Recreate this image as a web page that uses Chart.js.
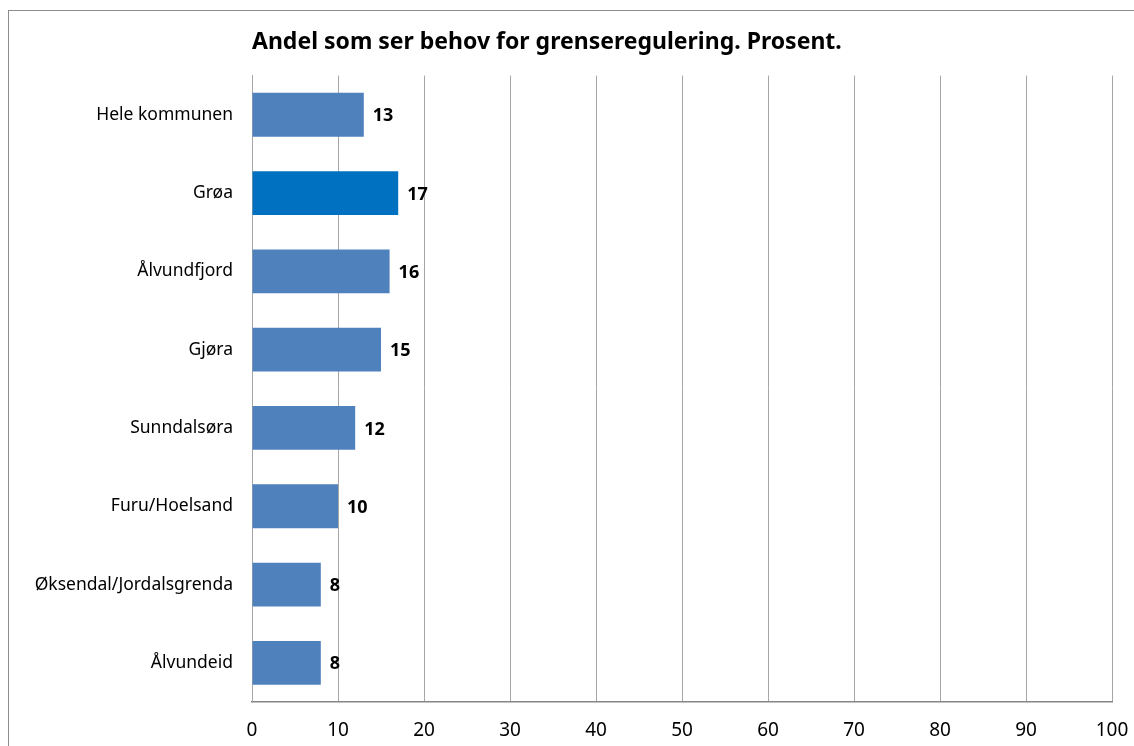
<!DOCTYPE html>
<html>
<head>
<meta charset="utf-8">
<script src="https://cdn.jsdelivr.net/npm/chart.js@4"></script>
<style>
  html, body { margin: 0; padding: 0; background: #fff; overflow: hidden; }
  #wrap { position: relative; width: 1134px; height: 746px; }
  #frame { position: absolute; left: 8px; top: 10px; width: 1140px; height: 760px;
           border: 1.5px solid #8c8c8c; box-sizing: border-box; pointer-events: none; }
  canvas { position: absolute; left: 0; top: 0; }
</style>
</head>
<body>
<div id="wrap">
  <div id="frame"></div>
  <canvas id="chart" width="1134" height="746"></canvas>
</div>
<script>
  const titleText = 'Andel som ser behov for grenseregulering. Prosent.';
  const areas = ['Hele kommunen', 'Grøa', 'Ålvundfjord', 'Gjøra', 'Sunndalsøra',
                 'Furu/Hoelsand', 'Øksendal/Jordalsgrenda', 'Ålvundeid'];
  const shares = [13, 17, 16, 15, 12, 10, 8, 8];
  const highlighted = 'Grøa';

  const baseColor = '#4f81bd';
  const highlightColor = '#0070c0';
  const fontFamily = '"Noto Sans", "Open Sans", sans-serif';

  // value labels to the right of each bar
  const valueLabels = {
    id: 'valueLabels',
    afterDatasetsDraw(chart) {
      const ctx = chart.ctx;
      const meta = chart.getDatasetMeta(0);
      ctx.save();
      ctx.font = 'bold 18px ' + fontFamily;
      ctx.fillStyle = '#000';
      ctx.textBaseline = 'middle';
      ctx.textAlign = 'left';
      meta.data.forEach((bar, i) => {
        ctx.fillText(String(shares[i]), bar.x + 9, bar.y + 1.5);
      });
      ctx.restore();
    }
  };

  new Chart(document.getElementById('chart'), {
    type: 'bar',
    data: {
      labels: areas,
      datasets: [{
        data: shares,
        backgroundColor: areas.map(a => a === highlighted ? highlightColor : baseColor),
        borderWidth: 0,
        categoryPercentage: 1,
        barPercentage: 0.56
      }]
    },
    options: {
      indexAxis: 'y',
      responsive: false,
      animation: false,
      devicePixelRatio: 1,
      layout: { padding: { left: 0, right: 22, top: 0, bottom: 0 } },
      plugins: {
        legend: { display: false },
        tooltip: { enabled: false },
        title: {
          display: true,
          text: titleText,
          align: 'start',
          fullSize: false,
          color: '#000',
          font: { family: fontFamily, size: 23, weight: 'bold' },
          padding: { top: 29, bottom: 19 }
        }
      },
      scales: {
        x: {
          min: 0,
          max: 100,
          ticks: {
            stepSize: 10,
            color: '#000',
            padding: 17,
            font: { family: fontFamily, size: 19 }
          },
          grid: { color: '#a6a6a6', lineWidth: 1, drawTicks: false },
          border: { color: '#868686', width: 1.5 },
          afterFit(scale) {
            scale.height = 44;
            scale.paddingLeft = 0;
            scale.paddingRight = 0;
          }
        },
        y: {
          ticks: {
            color: '#000',
            padding: 19,
            font: { family: fontFamily, size: 17.5 }
          },
          grid: { display: false, drawTicks: false },
          border: { color: '#a6a6a6', width: 1 },
          afterFit(scale) { scale.width = 252; }
        }
      }
    },
    plugins: [valueLabels]
  });
</script>
</body>
</html>
